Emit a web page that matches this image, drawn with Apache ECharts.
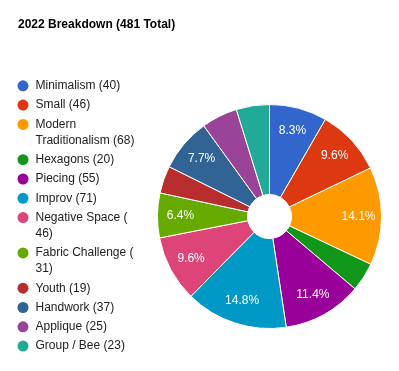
<!DOCTYPE html>
<html>
<head>
<meta charset="utf-8">
<script src="https://cdn.jsdelivr.net/npm/echarts@6/dist/echarts.min.js"></script>
<style>
html,body{margin:0;padding:0;background:#fff;}
#chart{width:399px;height:371px;}
</style>
</head>
<body>
<div id="chart"></div>
<script>
const titleText = '2022 Breakdown (481 Total)';
const categories = ['Minimalism', 'Small', 'Modern Traditionalism', 'Hexagons', 'Piecing', 'Improv',
  'Negative Space', 'Fabric Challenge', 'Youth', 'Handwork', 'Applique', 'Group / Bee'];
const values = [40, 46, 68, 20, 55, 71, 46, 31, 19, 37, 25, 23];
const colors = ['#3366cc', '#dc3912', '#ff9900', '#109618', '#990099', '#0099c6',
  '#dd4477', '#66aa00', '#b82e2e', '#316395', '#994499', '#22aa99'];

const FONT = 'Arial, "Liberation Sans", sans-serif';
const LINE_H = 16;
const ITEM_STEP = 19.3;
const FIRST_Y = 85.8;
const WRAP_W = 104;

const ctx = document.createElement('canvas').getContext('2d');
ctx.font = '12px ' + FONT;
function wrap(text) {
  const tokens = text.match(/\(|[^ (]+ ?| /g);
  const lines = [];
  let cur = '';
  tokens.forEach(function (t) {
    const trial = cur + t;
    if (cur && ctx.measureText(trial.trimEnd()).width > WRAP_W) {
      lines.push(cur.trimEnd());
      cur = t;
    } else {
      cur = trial;
    }
  });
  if (cur) lines.push(cur.trimEnd());
  return lines;
}

const total = values.reduce(function (a, b) { return a + b; }, 0);

// one legend component per text line; continuation lines carry an invisible icon
const legends = [];
let y = FIRST_Y;
categories.forEach(function (name, i) {
  const lines = wrap(name + ' (' + values[i] + ')');
  lines.forEach(function (line, k) {
    if (k > 0) y += LINE_H;
    legends.push({
      orient: 'vertical',
      left: 17.5,
      top: y - LINE_H / 2,
      padding: 0,
      itemWidth: 11,
      itemHeight: 11,
      icon: 'circle',
      selectedMode: false,
      data: [name],
      itemStyle: k === 0 ? { borderWidth: 0 } : { color: 'rgba(0,0,0,0)', borderWidth: 0 },
      formatter: function () { return line; },
      textStyle: { fontFamily: FONT, fontSize: 12, color: '#222', lineHeight: LINE_H, padding: [0, 0, 0, 2] }
    });
  });
  y += ITEM_STEP;
});

const pieData = categories.map(function (name, i) {
  return { name: name, value: values[i], itemStyle: { color: colors[i] } };
});

const chart = echarts.init(document.getElementById('chart'), null, { renderer: 'canvas' });
chart.setOption({
  animation: false,
  backgroundColor: '#fff',
  title: {
    text: titleText,
    left: 18,
    top: 17.5,
    padding: 0,
    textStyle: { fontFamily: FONT, fontSize: 12, fontWeight: 'bold', color: '#000', lineHeight: 14 }
  },
  legend: legends,
  series: [
    {
      type: 'pie',
      center: [269.5, 216.5],
      radius: [22, 112],
      startAngle: 90,
      clockwise: true,
      silent: true,
      data: pieData,
      itemStyle: { borderColor: '#fff', borderWidth: 1 },
      label: { show: false },
      labelLine: { show: false },
      emphasis: { disabled: true }
    },
    {
      type: 'pie',
      center: [269.5, 216.5],
      radius: [60, 112],
      startAngle: 90,
      clockwise: true,
      silent: true,
      data: pieData.map(function (d) { return { name: d.name, value: d.value, itemStyle: { color: 'rgba(0,0,0,0)' } }; }),
      itemStyle: { color: 'rgba(0,0,0,0)', borderWidth: 0 },
      labelLine: { show: false },
      emphasis: { disabled: true },
      label: {
        show: true,
        position: 'inside',
        color: '#fff',
        fontFamily: FONT,
        fontSize: 12,
        formatter: function (p) {
          const pct = p.value / total * 100;
          return pct > 5.5 ? pct.toFixed(1) + '%' : '';
        }
      }
    }
  ]
});
</script>
</body>
</html>
